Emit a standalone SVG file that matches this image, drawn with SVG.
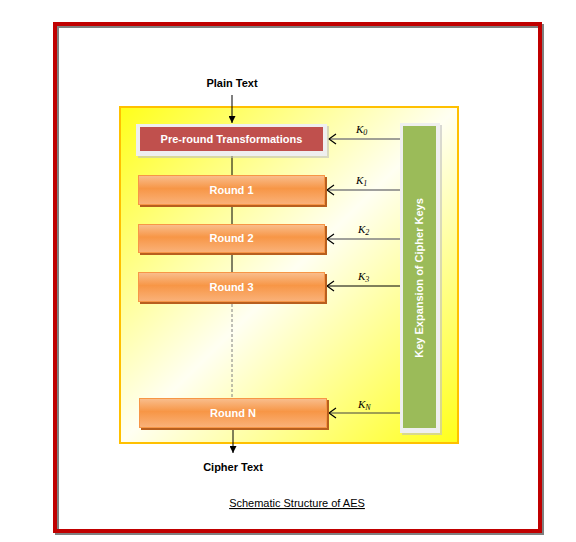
<svg xmlns="http://www.w3.org/2000/svg" width="576" height="542" viewBox="0 0 576 542">
<defs>
<linearGradient id="yel" x1="0" y1="0" x2="1" y2="1">
<stop offset="0" stop-color="#FFFF1A"/>
<stop offset="0.5" stop-color="#FFFFF2"/>
<stop offset="1" stop-color="#FFFF1A"/>
</linearGradient>
<linearGradient id="org" x1="0" y1="0" x2="0" y2="1">
<stop offset="0" stop-color="#F9BE8E"/>
<stop offset="0.45" stop-color="#F79646"/>
<stop offset="1" stop-color="#FAB27A"/>
</linearGradient>
<marker id="ah" viewBox="0 0 10 10" refX="10" refY="5" markerWidth="7" markerHeight="7" orient="auto" markerUnits="userSpaceOnUse">
<path d="M0,0 L10,5 L0,10 Z" fill="#000"/>
</marker>
<marker id="open" viewBox="0 0 10 12" refX="9" refY="6" markerWidth="10" markerHeight="12" orient="auto" markerUnits="userSpaceOnUse" overflow="visible">
<path d="M2,1 L9,6 L2,11" fill="none" stroke="#000" stroke-width="1.2"/>
</marker>
</defs>
<style>
.lbl{font-family:"Liberation Sans",Arial,sans-serif;font-size:11px;font-weight:bold;fill:#000;text-anchor:middle}
.wt{font-family:"Liberation Sans",Arial,sans-serif;font-size:11px;font-weight:bold;fill:#fff;text-anchor:middle}
.k{font-family:"Liberation Serif","Times New Roman",serif;font-style:italic;font-size:11px;fill:#000}
.ks{font-family:"Liberation Serif","Times New Roman",serif;font-style:italic;font-size:8px;fill:#000}
.ks0{font-family:"Liberation Serif","Times New Roman",serif;font-size:8px;fill:#000}
.round{fill:url(#org);stroke:#F79646;stroke-width:1}
.shadow{fill:#B85F1E}
</style>
<rect width="576" height="542" fill="#fff"/>
<!-- outer frame -->
<rect x="57" y="26" width="485" height="507" fill="none" stroke="#808080" stroke-width="4"/>
<rect x="55" y="24" width="485" height="507" fill="none" stroke="#C00000" stroke-width="4"/>
<!-- yellow panel -->
<rect id="panel" x="120" y="107" width="338" height="336" fill="url(#yel)" stroke="#FFC000" stroke-width="2"/>

<g id="connectors">
<line x1="232" y1="95" x2="232" y2="123" stroke="#000" stroke-width="1" marker-end="url(#ah)"/>
<line x1="232" y1="156" x2="232" y2="175" stroke="#000" stroke-width="1"/>
<line x1="232" y1="207" x2="232" y2="224" stroke="#000" stroke-width="1"/>
<line x1="232" y1="255" x2="232" y2="272" stroke="#000" stroke-width="1"/>
<line x1="232" y1="304" x2="232" y2="398" stroke="#808080" stroke-width="1" stroke-dasharray="3,2"/>
<line x1="233" y1="430" x2="233" y2="453" stroke="#000" stroke-width="1" marker-end="url(#ah)"/>
<line x1="400" y1="139" x2="329" y2="139" stroke="#808080" stroke-width="1.3" marker-end="url(#open)"/>
<line x1="400" y1="190" x2="327" y2="190" stroke="#808080" stroke-width="1.3" marker-end="url(#open)"/>
<line x1="400" y1="239" x2="327" y2="239" stroke="#808080" stroke-width="1.3" marker-end="url(#open)"/>
<line x1="400" y1="286" x2="327" y2="286" stroke="#000" stroke-width="1" marker-end="url(#open)"/>
<line x1="400" y1="413" x2="329" y2="413" stroke="#404040" stroke-width="1" marker-end="url(#open)"/>
<text class="k" x="356" y="133">K<tspan class="ks0" dy="2">0</tspan></text>
<text class="k" x="356" y="184">K<tspan class="ks0" dy="2">1</tspan></text>
<text class="k" x="358" y="233">K<tspan class="ks0" dy="2">2</tspan></text>
<text class="k" x="358" y="280">K<tspan class="ks0" dy="2">3</tspan></text>
<text class="k" x="358" y="408">K<tspan class="ks" dy="2">N</tspan></text>
</g>

<g id="plain"><text class="lbl" x="232" y="87">Plain Text</text></g>
<g id="cipher"><text class="lbl" x="233" y="471">Cipher Text</text></g>

<g id="preround">
<rect x="138" y="126" width="191" height="32" fill="#BFBFBF" opacity="0.6"/>
<rect x="136" y="124" width="191" height="32" fill="#EFEFEF"/>
<rect x="140" y="127" width="183" height="24" fill="#C0504D"/>
<text class="wt" x="231.5" y="143">Pre-round Transformations</text>
</g>

<g id="round1">
<rect class="shadow" x="140" y="177" width="187" height="30"/>
<rect class="round" x="138.5" y="175.5" width="186" height="29"/>
<text class="wt" x="231.5" y="194">Round 1</text>
</g>
<g id="round2">
<rect class="shadow" x="140" y="226" width="187" height="29"/>
<rect class="round" x="138.5" y="224.5" width="186" height="28"/>
<text class="wt" x="231.5" y="242">Round 2</text>
</g>
<g id="round3">
<rect class="shadow" x="140" y="274" width="187" height="30"/>
<rect class="round" x="138.5" y="272.5" width="186" height="29"/>
<text class="wt" x="231.5" y="291">Round 3</text>
</g>
<g id="roundN">
<rect class="shadow" x="141" y="400" width="188" height="30"/>
<rect class="round" x="139.5" y="398.5" width="187" height="29"/>
<text class="wt" x="233" y="417">Round N</text>
</g>

<g id="keyexp">
<rect x="402" y="125" width="40" height="310" fill="#BFBFBF" opacity="0.6"/>
<rect x="400" y="123" width="40" height="310" fill="#EFEFEF"/>
<rect x="403" y="126" width="33" height="302" fill="#9BBB59"/>
<text class="wt" transform="translate(423,278) rotate(-90)">Key Expansion of Cipher Keys</text>
</g>

<g id="caption">
<text x="297" y="507" font-family="Liberation Sans,Arial,sans-serif" font-size="11" fill="#000" text-anchor="middle" text-decoration="underline">Schematic Structure of AES</text>
</g>
</svg>
